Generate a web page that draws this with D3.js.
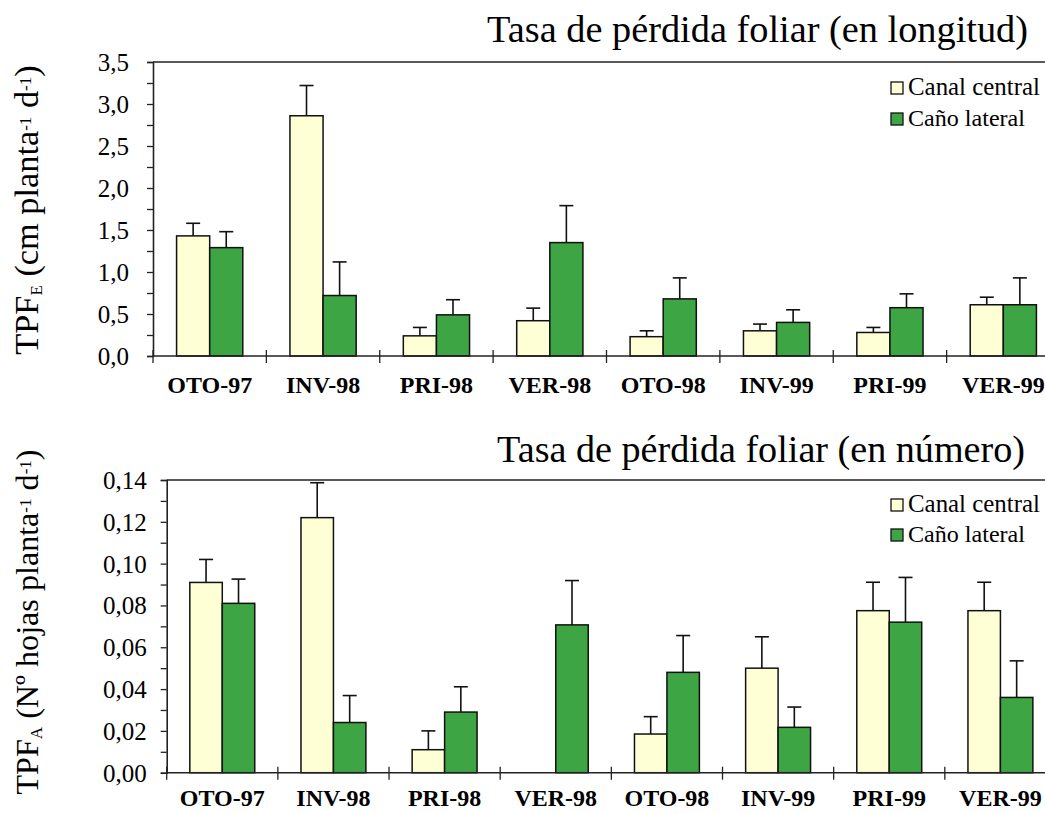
<!DOCTYPE html>
<html>
<head>
<meta charset="utf-8">
<script src="https://cdn.jsdelivr.net/npm/d3@7"></script>
<style>
  body { margin: 0; background: #fff; }
  text { font-family: "Liberation Serif", "Times New Roman", serif; fill: #000; }
</style>
</head>
<body>
<script>
// seasons (x categories)
var seasons = ["OTO-97", "INV-98", "PRI-98", "VER-98", "OTO-98", "INV-99", "PRI-99", "VER-99"];
var series = ["Canal central", "Caño lateral"];

// top panel: loss rate in length (cm planta-1 d-1)
var lenCentral    = [1.43, 2.86, 0.24, 0.42, 0.23, 0.30, 0.28, 0.61];
var lenCentralErr = [0.15, 0.36, 0.10, 0.15, 0.07, 0.08, 0.06, 0.09];
var lenLateral    = [1.29, 0.72, 0.49, 1.35, 0.68, 0.40, 0.575, 0.61];
var lenLateralErr = [0.19, 0.40, 0.18, 0.44, 0.25, 0.15, 0.165, 0.32];

// bottom panel: loss rate in number of leaves
var numCentral    = [0.091, 0.122, 0.011, 0, 0.0185, 0.050, 0.0775, 0.0775];
var numCentralErr = [0.011, 0.0167, 0.009, 0, 0.0083, 0.015, 0.0136, 0.0136];
var numLateral    = [0.081, 0.024, 0.029, 0.0707, 0.048, 0.0217, 0.072, 0.036];
var numLateralErr = [0.0116, 0.0129, 0.0121, 0.0212, 0.0176, 0.0097, 0.0214, 0.0175];

var colors = {"Canal central": "#ffffd5", "Caño lateral": "#3da543"};
var serifFont = '"Liberation Serif", "Times New Roman", serif';

var loc = d3.formatLocale({decimal: ",", thousands: ".", grouping: [3], currency: ["", ""]});

var svg = d3.select("body")
    .append("svg")
    .attr("width", 1045)
    .attr("height", 813);

// scale the font so the text is as wide as in the original
function fit(t, base, width) {
  t.style("font-size", base + "px");
  var w = t.node().getComputedTextLength();
  t.style("font-size", (base * width / w).toFixed(2) + "px");
}

function panel(o) {
  var g = svg.append("g");

  var x = d3.scaleBand()
    .domain(seasons)
    .range([o.left, o.right])
    .padding(0);

  var xs = d3.scaleBand()
    .domain(series)
    .range([x.bandwidth() * 0.208, x.bandwidth() * 0.792]);

  var y = d3.scaleLinear()
    .domain([0, o.max])
    .range([o.bottom, o.top]);

  var rows = [];
  seasons.forEach(function(s, i) {
    rows.push({season: s, serie: series[0], v: o.central[i], e: o.centralErr[i]});
    rows.push({season: s, serie: series[1], v: o.lateral[i], e: o.lateralErr[i]});
  });
  rows = rows.filter(function(d) { return d.v > 0; });

  // top frame line
  g.append("line")
    .attr("x1", o.left).attr("x2", o.right)
    .attr("y1", o.top).attr("y2", o.top)
    .attr("stroke", "#222").attr("stroke-width", 1.6);

  // error bars (only upward)
  var cx = function(d) { return x(d.season) + xs(d.serie) + xs.bandwidth() / 2; };
  var eb = g.selectAll(".err").data(rows).enter().append("g").attr("class", "err");
  eb.append("line")
    .attr("x1", cx).attr("x2", cx)
    .attr("y1", function(d) { return y(d.v); })
    .attr("y2", function(d) { return y(d.v + d.e); })
    .attr("stroke", "#111").attr("stroke-width", 1.6);
  eb.append("line")
    .attr("x1", function(d) { return cx(d) - 7; })
    .attr("x2", function(d) { return cx(d) + 7; })
    .attr("y1", function(d) { return y(d.v + d.e); })
    .attr("y2", function(d) { return y(d.v + d.e); })
    .attr("stroke", "#111").attr("stroke-width", 1.6);

  g.selectAll("rect.bar").data(rows).enter().append("rect")
    .attr("class", "bar")
    .attr("x", function(d) { return x(d.season) + xs(d.serie); })
    .attr("y", function(d) { return y(d.v); })
    .attr("width", xs.bandwidth())
    .attr("height", function(d) { return y(0) - y(d.v); })
    .attr("fill", function(d) { return colors[d.serie]; })
    .attr("stroke", "#111")
    .attr("stroke-width", 1.5);

  // y axis
  var yAxis = d3.axisLeft(y)
    .tickValues(d3.range(0, o.max + o.minor / 2, o.minor))
    .tickSize(6)
    .tickPadding(o.tickPad)
    .tickFormat(function(d) {
      var k = Math.round(d / o.minor);
      return k % 2 === 0 ? loc.format(o.fmt)(d) : "";
    });
  var ya = g.append("g")
    .attr("transform", "translate(" + o.left + ",0)")
    .call(yAxis);
  ya.select(".domain").attr("stroke", "#222").attr("stroke-width", 1.6);
  ya.selectAll(".tick line").attr("stroke", "#222").attr("stroke-width", 1.3);
  ya.selectAll("text").style("font-family", serifFont).style("font-size", "25px").attr("dy", "0.34em");

  // x axis line + category separators
  g.append("line")
    .attr("x1", o.left).attr("x2", o.right)
    .attr("y1", o.bottom).attr("y2", o.bottom)
    .attr("stroke", "#222").attr("stroke-width", 1.6);
  g.selectAll(".sep").data(seasons).enter().append("line")
    .attr("x1", function(d) { return x(d); })
    .attr("x2", function(d) { return x(d); })
    .attr("y1", o.bottom - 6).attr("y2", o.bottom + 7)
    .attr("stroke", "#222").attr("stroke-width", 1.3);

  g.selectAll(".cat").data(seasons).enter().append("text")
    .attr("x", function(d) { return x(d) + x.bandwidth() / 2; })
    .attr("y", o.catY)
    .attr("text-anchor", "middle")
    .style("font-size", "24px")
    .style("font-weight", "bold")
    .text(function(d) { return d; });

  // title
  var title = g.append("text")
    .attr("x", o.titleX).attr("y", o.titleY)
    .attr("text-anchor", "end")
    .text(o.title);
  fit(title, 36, o.titleW);

  // legend
  var lg = g.append("g").attr("transform", "translate(" + o.legX + "," + o.legY + ")");
  series.forEach(function(s, i) {
    lg.append("rect")
      .attr("x", 0).attr("y", i * o.legStep - 13)
      .attr("width", 12).attr("height", 12)
      .attr("fill", colors[s]).attr("stroke", "#111").attr("stroke-width", 1.3);
    var lt = lg.append("text")
      .attr("x", 17).attr("y", i * o.legStep)
      .text(s);
    fit(lt, 24, s === series[0] ? 132 : 117);
  });

  // y label
  var lab = g.append("text")
    .attr("transform", "translate(" + o.labX + "," + o.labY + ") rotate(-90)")
    .attr("text-anchor", "middle")
    .style("font-size", "30px");
  o.label.forEach(function(p) {
    var t = lab.append("tspan").text(p.t);
    if (p.sub) t.attr("baseline-shift", "-22%").style("font-size", "17px");
    if (p.sup) t.attr("baseline-shift", "42%").style("font-size", "17px");
  });
  var lw = lab.node().getComputedTextLength();
  lab.style("font-size", (30 * o.labW / lw).toFixed(2) + "px");
}

panel({
  left: 153, right: 1060, top: 62, bottom: 356, max: 3.5, minor: 0.25, fmt: ".1f", tickPad: 18,
  central: lenCentral, centralErr: lenCentralErr, lateral: lenLateral, lateralErr: lenLateralErr,
  catY: 393, title: "Tasa de pérdida foliar (en longitud)", titleX: 1028, titleY: 42, titleW: 541,
  legX: 891, legY: 95, legStep: 31,
  labX: 38, labY: 210, labW: 295,
  label: [{t: "TPF"}, {t: "E", sub: true}, {t: " (cm planta"}, {t: "-1", sup: true}, {t: " d"}, {t: "-1", sup: true}, {t: ")"}]
});

panel({
  left: 166.7, right: 1056, top: 480, bottom: 772.7, max: 0.14, minor: 0.01, fmt: ".2f", tickPad: 14,
  central: numCentral, centralErr: numCentralErr, lateral: numLateral, lateralErr: numLateralErr,
  catY: 806, title: "Tasa de pérdida foliar (en número)", titleX: 1025, titleY: 462, titleW: 528,
  legX: 891, legY: 512, legStep: 30,
  labX: 38, labY: 622, labW: 348,
  label: [{t: "TPF"}, {t: "A", sub: true}, {t: " (Nº hojas planta"}, {t: "-1", sup: true}, {t: " d"}, {t: "-1", sup: true}, {t: ")"}]
});
</script>
</body>
</html>
